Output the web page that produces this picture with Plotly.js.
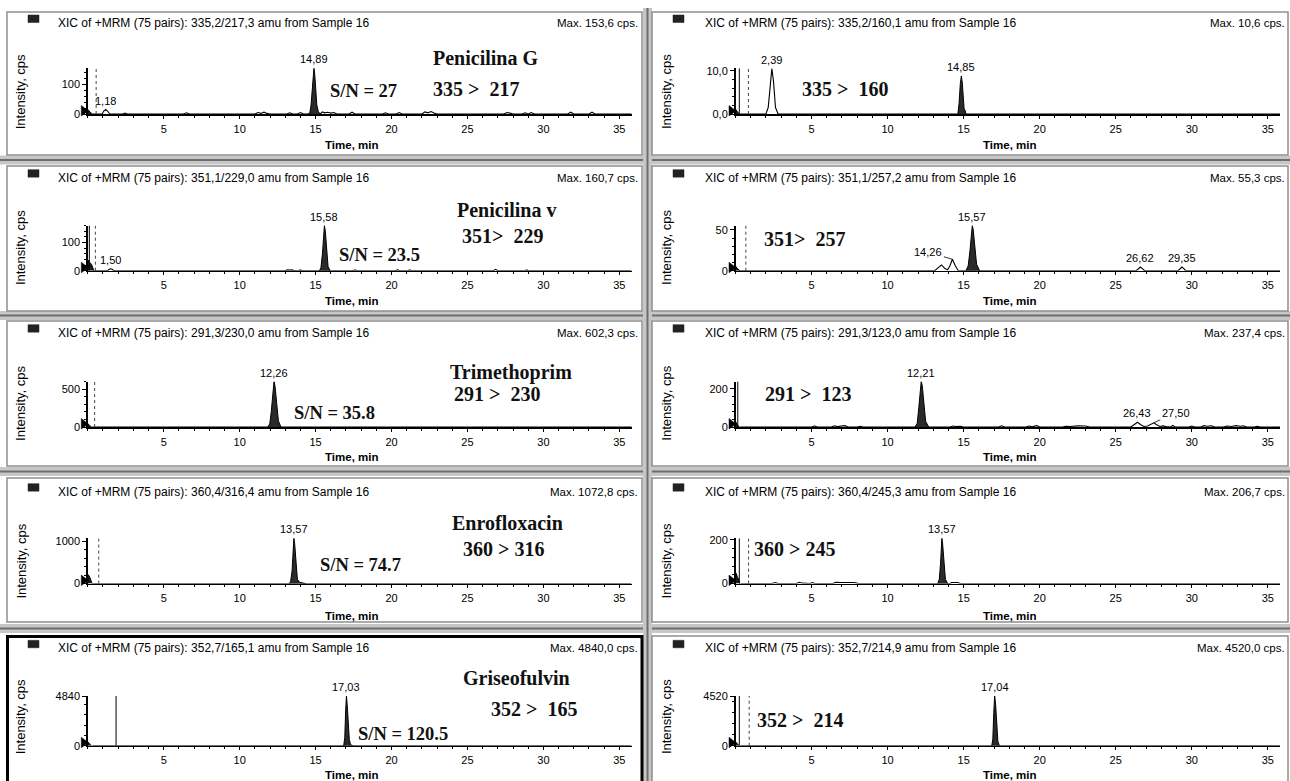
<!DOCTYPE html>
<html><head><meta charset="utf-8">
<script src="https://cdn.plot.ly/plotly-3.0.1.min.js"></script>
<style>html,body{margin:0;padding:0;background:#fff;overflow:hidden}#chart{width:1290px;height:781px}</style>
</head><body><div id="chart"></div>
<script>
// ---------------- DATA ----------------
const headers = [
  'XIC of +MRM (75 pairs): 335,2/217,3 amu from Sample 16',
  'XIC of +MRM (75 pairs): 335,2/160,1 amu from Sample 16',
  'XIC of +MRM (75 pairs): 351,1/229,0 amu from Sample 16',
  'XIC of +MRM (75 pairs): 351,1/257,2 amu from Sample 16',
  'XIC of +MRM (75 pairs): 291,3/230,0 amu from Sample 16',
  'XIC of +MRM (75 pairs): 291,3/123,0 amu from Sample 16',
  'XIC of +MRM (75 pairs): 360,4/316,4 amu from Sample 16',
  'XIC of +MRM (75 pairs): 360,4/245,3 amu from Sample 16',
  'XIC of +MRM (75 pairs): 352,7/165,1 amu from Sample 16',
  'XIC of +MRM (75 pairs): 352,7/214,9 amu from Sample 16'
];
const maxTexts = ['Max. 153,6 cps.','Max. 10,6 cps.','Max. 160,7 cps.','Max. 55,3 cps.','Max. 602,3 cps.',
  'Max. 237,4 cps.','Max. 1072,8 cps.','Max. 206,7 cps.','Max. 4840,0 cps.','Max. 4520,0 cps.'];
const yMax = [153.6, 10.6, 160.7, 55.3, 602.3, 237.4, 1072.8, 206.7, 4840, 4520];
const yTickVals = [[0,100],[0,10],[0,100,161],[0,50],[0,500],[0,200],[0,1000],[0,200],[0,4840],[0,4520]];
const yTickText = [['0','100'],['0,0','10,0'],['0','100','161'],['0','50'],['0','500'],['0','200'],['0','1000'],['0','200'],['0','4840'],['0','4520']];
const xTickVals = [5,10,15,20,25,30,35];
const xRange = [0, 35.8];

const compounds = ['Penicilina G','','Penicilina v','','Trimethoprim','','Enrofloxacin','','Griseofulvin',''];
const transitions = ['335 >\u00a0 217','335 >\u00a0 160','351>\u00a0 229','351>\u00a0 257','291 >\u00a0 230',
  '291 >\u00a0 123','360 > 316','360 > 245','352 >\u00a0 165','352 >\u00a0 214'];
const snTexts = ['S/N = 27','','S/N = 23.5','','S/N = 35.8','','S/N = 74.7','','S/N = 120.5',''];

// baselines (time, cps)
const baseA = [[0.3,0],[0.95,0],[1.05,10],[1.18,15],[1.3,10],[1.45,0],[2.3,0],[2.45,3],[2.6,0],[6.3,0],[6.5,4],[6.7,0],
  [11.0,0],[11.2,5],[11.4,2],[11.6,6],[11.8,2],[12.0,0],[13.1,0],[13.3,4],[13.5,0],[13.8,0],[14.0,5],[14.2,0],
  [15.3,0],[15.45,7],[15.6,4],[15.8,6],[16.0,3],[16.2,5],[16.4,0],[17.2,0],[17.4,6],[17.6,0],[19.4,0],[19.6,4],[19.8,0],
  [20.3,0],[20.5,5],[20.7,0],[22.0,0],[22.2,7],[22.4,4],[22.6,8],[22.8,3],[23.0,0],[27.4,0],[27.6,5],[27.8,3],[28.0,0],
  [28.6,0],[28.8,4],[29.0,0],[29.2,5],[29.4,0],[31.6,0],[31.8,6],[32.0,0],[33.0,0],[33.2,6],[33.4,0],[35.8,0]];
const baseB = [[0.3,0],[2.0,0],[2.15,1.5],[2.28,7.5],[2.39,10.5],[2.5,7.5],[2.63,1.5],[2.8,0],[35.8,0]];
const baseC = [[0.4,0],[1.3,0],[1.42,5],[1.5,7],[1.6,5],[1.72,0],[13.0,0],[13.15,3],[13.3,2],[13.45,3],[13.6,0],
  [13.9,0],[14.0,3],[14.1,0],[17.5,0],[17.6,3],[17.7,0],[20.3,0],[20.4,4],[20.5,0],[21.1,0],[21.2,3],[21.3,0],
  [26.7,0],[26.85,5],[27.0,0],[28.8,0],[28.9,3],[29.0,0],[29.7,0],[29.8,2],[29.9,0],[35.8,0]];
const baseD = [[0.3,0],[13.1,0],[13.35,4],[13.55,7],[13.75,3],[13.95,1],[14.1,6],[14.26,14],[14.45,6],[14.65,0],
  [26.35,0],[26.5,2.5],[26.62,4.5],[26.75,2.5],[26.9,0],[29.1,0],[29.22,2.5],[29.35,4.5],[29.48,2.5],[29.6,0],[35.8,0]];
const baseE = [[0.3,0],[2.9,0],[3.0,4],[3.1,0],[35.8,0]];
const baseF = [[0.3,0],[5.0,0],[5.2,5],[5.4,0],[6.3,0],[6.5,6],[6.7,2],[7.0,3],[7.2,7],[7.4,0],[8.0,0],[8.2,4],[8.4,0],
  [14.1,0],[14.3,5],[14.5,2],[14.8,4],[15.0,0],[17.3,0],[17.5,6],[17.7,0],[19.1,0],[19.3,5],[19.5,1],[19.8,7],[20.0,0],
  [21.5,0],[21.7,4],[22.0,3],[22.5,6],[23.0,5],[23.3,0],[24.0,0],[24.15,3],[24.3,0],[26.0,0],[26.2,12],[26.43,25],
  [26.65,12],[26.85,3],[27.1,5],[27.3,15],[27.5,22],[27.7,12],[27.9,3],[28.1,6],[28.3,2],[28.6,0],[28.75,8],[28.9,0],
  [29.8,0],[30.0,5],[30.2,0],[30.6,0],[30.8,7],[31.0,4],[31.3,6],[31.5,0],[32.1,0],[32.3,5],[32.6,3],[32.9,7],[33.2,4],
  [33.4,6],[33.6,0],[34.1,0],[34.3,4],[34.5,0],[35.1,0],[35.3,3],[35.5,0],[35.8,0]];
const baseG = [[0.3,0],[35.8,0]];
const baseH = [[0.35,0],[2.4,0],[2.6,5],[2.8,0],[4.0,0],[4.2,6],[4.4,2],[4.6,0],[4.9,0],[5.05,5],[5.2,0],[6.4,0],[6.6,6],
  [7.0,5],[7.4,6],[7.8,5],[8.1,0],[8.9,0],[9.05,2],[9.2,0],[12.7,0],[12.85,3],[13.0,0],[14.1,0],[14.2,5],[14.6,5],[14.8,0],
  [26.1,0],[26.2,3],[26.3,0],[34.9,0],[35.0,2],[35.1,0],[35.8,0]];
const baseI = [[0.3,0],[35.8,0]];
const baseJ = [[0.3,0],[35.8,0]];

// main (filled) peaks
const peakA = [[14.5,0],[14.62,4],[14.7,30],[14.78,95],[14.84,140],[14.89,153.6],[14.94,135],[15.0,80],[15.08,30],[15.18,8],[15.3,0]];
const peakB = [[14.62,0],[14.7,2.5],[14.78,7],[14.85,8.8],[14.91,7.2],[14.97,3],[15.03,1.2],[15.1,0.8],[15.15,0]];
const peakC = [[15.25,0],[15.35,10],[15.45,60],[15.52,130],[15.58,160.7],[15.64,140],[15.72,70],[15.82,15],[15.95,0]];
const peakD = [[15.15,0],[15.3,6],[15.42,25],[15.52,48],[15.57,55.3],[15.63,50],[15.72,28],[15.85,8],[16.05,0]];
const peakE = [[11.85,0],[11.98,40],[12.08,200],[12.18,480],[12.26,602.3],[12.33,540],[12.43,300],[12.55,80],[12.72,0]];
const peakF = [[11.8,0],[11.95,20],[12.05,100],[12.14,200],[12.21,237.4],[12.28,215],[12.38,120],[12.5,30],[12.7,0]];
const peakG = [[13.25,0],[13.35,40],[13.45,300],[13.52,850],[13.57,1072.8],[13.62,950],[13.7,450],[13.8,100],[13.95,30],[14.2,10],[14.35,0]];
const peakH = [[13.3,0],[13.4,20],[13.48,90],[13.53,170],[13.57,206.7],[13.62,180],[13.7,90],[13.8,20],[13.95,0]];
const peakI = [[16.85,0],[16.92,800],[16.98,3500],[17.03,4840],[17.08,4000],[17.14,2600],[17.22,600],[17.3,100],[17.45,0]];
const peakJ = [[16.85,0],[16.92,600],[16.98,3000],[17.04,4520],[17.1,3800],[17.17,1800],[17.25,400],[17.35,0]];

// solvent-front region at start
const headA = [[0,0],[0.03,14],[0.15,6],[0.3,0]];
const headB = [[0,0],[0.03,1.0],[0.15,0.4],[0.25,0]];
const headC = [[0,0],[0.03,38],[0.12,30],[0.25,22],[0.4,0]];
const headD = [[0,0],[0.03,5],[0.15,2],[0.3,0]];
const headE = [[0,0],[0.03,40],[0.12,18],[0.25,0]];
const headF = [[0,0],[0.03,25],[0.12,12],[0.25,0]];
const headG = [[0,0],[0.03,210],[0.12,160],[0.28,0]];
const headH = [[0,0],[0.03,48],[0.12,32],[0.3,0]];
const headI = [[0,0],[0.03,350],[0.12,150],[0.25,0]];
const headJ = [[0,0],[0.03,320],[0.12,150],[0.25,0]];

// vertical markers (time)
const spikeTimes = [[],[0.25],[0.1],[],[],[0.15],[],[0.25],[1.86],[0.25]];
const dotTimes = [[0.55],[0.85],[0.5],[0.68],[0.45],[],[0.72],[0.86],[],[0.9]];

// peak labels: panel, text, time, height, leader dx, leader dy (px)
const peakLabels = [
  [0,'14,89',14.89,153.6],[0,'1,18',1.18,15],[1,'2,39',2.39,10.5],[1,'14,85',14.85,8.8],
  [2,'15,58',15.58,160.7],[2,'1,50',1.5,7],[3,'15,57',15.57,55.3],[3,'14,26',14.26,14,-24,-7],
  [3,'26,62',26.62,4.5],[3,'29,35',29.35,4.5],[4,'12,26',12.26,602.3],[5,'12,21',12.21,237.4],
  [5,'26,43',26.43,25],[5,'27,50',27.5,22,22,-10],[6,'13,57',13.57,1072.8],[7,'13,57',13.57,206.7],
  [8,'17,03',17.03,4840],[9,'17,04',17.04,4520]
];

const bases = [baseA,baseB,baseC,baseD,baseE,baseF,baseG,baseH,baseI,baseJ];
const peaks = [peakA,peakB,peakC,peakD,peakE,peakF,peakG,peakH,peakI,peakJ];
const heads = [headA,headB,headC,headD,headE,headF,headG,headH,headI,headJ];

// ---------------- LAYOUT GEOMETRY (px) ----------------
const W = 1290, H = 781;
const PX = x => x / W, PY = y => 1 - y / H;
const SANS = 'Liberation Sans, Arial, sans-serif';
const SERIF = 'Liberation Serif, Times New Roman, serif';
const colX0 = [87.8, 735.5], colX1 = [631.5, 1280];
const rowY0 = [114, 270.7, 427, 583.6, 745.7];
const rowTop = [68.2, 225.5, 381.5, 538.2, 696];
const hdrY = [23, 177.7, 332.7, 491.7, 648.3];
const yTitleY = [91.7, 247.5, 403.3, 561, 716.7];
const xTitleY = [145, 300.7, 456.7, 616.3, 775];
const yMinor = [20, 2, 20, 10, 100, 40, 200, 40, 1000, 1000];
const namePos = {0:[485.5,56.7],2:[506,209],4:[511,371],6:[507,521.7],8:[516,676.7]};
const transPos = [[476,88.3],[844.5,88.3],[502,234.5],[804,238.3],[496.5,393.3],[808,393.3],[503,548.3],[794,548.3],[533.6,708.3],[800,719]];
const snPos = {0:[363,90],2:[379.5,254],4:[334,411.7],6:[361,564],8:[403,733.3]};

const toXY = arr => ({x: arr.map(p => p[0]), y: arr.map(p => p[1])});

const traces = [], annotations = [], shapes = [];
const layout = {
  width: W, height: H, margin: {l:0, r:0, t:0, b:0}, showlegend: false,
  paper_bgcolor: '#fff', plot_bgcolor: 'rgba(0,0,0,0)', font: {family: SANS, color: '#000'}
};

// separators and frames
const sepY = [160, 315.5, 471.5, 628.5];
sepY.forEach(y => {
  shapes.push({type:'line', xref:'paper', yref:'paper', x0:0, x1:1, y0:PY(y), y1:PY(y), line:{color:'#c6c6c6', width:9}, layer:'below'});
  shapes.push({type:'line', xref:'paper', yref:'paper', x0:0, x1:1, y0:PY(y), y1:PY(y), line:{color:'#6e6e6e', width:2}, layer:'below'});
});
shapes.push({type:'line', xref:'paper', yref:'paper', x0:PX(647.5), x1:PX(647.5), y0:0, y1:PY(8), line:{color:'#c6c6c6', width:9}, layer:'below'});
shapes.push({type:'line', xref:'paper', yref:'paper', x0:PX(647.5), x1:PX(647.5), y0:0, y1:PY(8), line:{color:'#6e6e6e', width:2}, layer:'below'});
const rowTopF = [12, 166, 321, 478, 636], rowBotF = [155, 311, 466, 622, 795];
const colL = [7, 652], colR = [642, 1288];
for (let r = 0; r < 5; r++) for (let c = 0; c < 2; c++) {
  shapes.push({type:'rect', xref:'paper', yref:'paper', x0:PX(colL[c]), x1:PX(colR[c]), y0:PY(rowBotF[r]), y1:PY(rowTopF[r]),
    line:{color:'#8e8e8e', width:1.5}, fillcolor:'rgba(0,0,0,0)', layer:'below'});
}
shapes.push({type:'rect', xref:'paper', yref:'paper', x0:PX(7.5), x1:PX(642), y0:PY(795), y1:PY(636.5),
  line:{color:'#000', width:3}, fillcolor:'rgba(0,0,0,0)', layer:'above'});

for (let i = 0; i < 10; i++) {
  const c = i % 2, r = Math.floor(i / 2);
  const s = i === 0 ? '' : String(i + 1);
  const xa = 'x' + s, ya = 'y' + s;
  layout['xaxis' + s] = {
    domain: [PX(colX0[c]), PX(colX1[c])], range: xRange, anchor: ya,
    tickmode: 'array', tickvals: xTickVals, ticks: 'outside', ticklen: 3, tickwidth: 1, tickcolor: '#000',
    showline: true, linecolor: '#000', linewidth: 1.5, showgrid: false, zeroline: false, fixedrange: true,
    tickfont: {family: SANS, size: 11, color: '#000'}, ticklabelstandoff: 1,
    minor: {tickmode: 'linear', tick0: 0, dtick: 1, ticks: 'outside', ticklen: 2, tickcolor: '#000', showgrid: false}
  };
  layout['yaxis' + s] = {
    domain: [PY(rowY0[r]), PY(rowTop[r])], range: [0, yMax[i]], anchor: xa,
    tickmode: 'array', tickvals: yTickVals[i], ticktext: yTickText[i], ticks: 'outside', ticklen: 4, tickcolor: '#000',
    showline: true, linecolor: '#000', linewidth: 1.5, showgrid: false, zeroline: false, fixedrange: true,
    tickfont: {family: SANS, size: 11, color: '#000'},
    minor: {tickmode: 'linear', tick0: 0, dtick: yMinor[i], ticks: 'outside', ticklen: 2, tickcolor: '#000', showgrid: false}
  };

  const b = toXY(bases[i]);
  traces.push({type:'scatter', mode:'lines', x:b.x, y:b.y, xaxis:xa, yaxis:ya, line:{color:'#000', width:1.1}, hoverinfo:'skip'});
  const h = toXY(heads[i]);
  traces.push({type:'scatter', mode:'lines', x:h.x, y:h.y, xaxis:xa, yaxis:ya, fill:'tozeroy', fillcolor:'#1e1e1e', line:{color:'#000', width:1}, hoverinfo:'skip'});
  const p = toXY(peaks[i]);
  traces.push({type:'scatter', mode:'lines', x:p.x, y:p.y, xaxis:xa, yaxis:ya, fill:'tozeroy', fillcolor:'#2a2a2a', line:{color:'#000', width:1}, hoverinfo:'skip'});
  spikeTimes[i].forEach(t => traces.push({type:'scatter', mode:'lines', x:[t,t], y:[0,yMax[i]], xaxis:xa, yaxis:ya, line:{color:'#000', width:1}, hoverinfo:'skip'}));
  dotTimes[i].forEach(t => traces.push({type:'scatter', mode:'lines', x:[t,t], y:[0,yMax[i]], xaxis:xa, yaxis:ya, line:{color:'#444', width:1, dash:'dot'}, hoverinfo:'skip'}));

  // start triangle glyph
  const x0 = colX0[c], y0 = rowY0[r];
  shapes.push({type:'path', xref:'paper', yref:'paper', layer:'above',
    path:`M ${PX(x0-6.5)},${PY(y0-8.5)} L ${PX(x0+0.5)},${PY(y0-3)} L ${PX(x0-6.5)},${PY(y0+2)} Z`,
    fillcolor:'#000', line:{color:'#000', width:0.5}});

  // header
  const sqL = c === 0 ? 28 : 673;
  shapes.push({type:'rect', xref:'paper', yref:'paper', x0:PX(sqL), x1:PX(sqL+11), y0:PY(hdrY[r]-0.5), y1:PY(hdrY[r]-8),
    fillcolor:'#222', line:{color:'#222', width:0.5}});
  annotations.push({xref:'paper', yref:'paper', x:PX(c === 0 ? 55.5 : 702.6), y:PY(hdrY[r]), xanchor:'left', yanchor:'middle',
    text:headers[i], showarrow:false, font:{family:SANS, size:12, color:'#000'}});
  annotations.push({xref:'paper', yref:'paper', x:PX(c === 0 ? 640 : 1287), y:PY(hdrY[r]), xanchor:'right', yanchor:'middle',
    text:maxTexts[i], showarrow:false, font:{family:SANS, size:11.5, color:'#000'}});
  // axis titles
  annotations.push({xref:'paper', yref:'paper', x:PX(c === 0 ? 20.6 : 666.4), y:PY(yTitleY[r]), xanchor:'center', yanchor:'middle',
    text:'Intensity, cps', textangle:-90, showarrow:false, font:{family:SANS, size:13, color:'#000'}});
  annotations.push({xref:'paper', yref:'paper', x:PX(c === 0 ? 351.7 : 1009), y:PY(xTitleY[r]), xanchor:'center', yanchor:'middle',
    text:'<b>Time, min</b>', showarrow:false, font:{family:SANS, size:11.5, color:'#000'}});
  // compound texts
  if (compounds[i]) annotations.push({xref:'paper', yref:'paper', x:PX(namePos[i][0]), y:PY(namePos[i][1]+1), xanchor:'center', yanchor:'middle',
    text:'<b>' + compounds[i] + '</b>', showarrow:false, font:{family:SERIF, size:20, color:'#111'}});
  annotations.push({xref:'paper', yref:'paper', x:PX(transPos[i][0]), y:PY(transPos[i][1]+1), xanchor:'center', yanchor:'middle',
    text:'<b>' + transitions[i] + '</b>', showarrow:false, font:{family:SERIF, size:20, color:'#111'}});
  if (snTexts[i]) annotations.push({xref:'paper', yref:'paper', x:PX(snPos[i][0]), y:PY(snPos[i][1]+1), xanchor:'center', yanchor:'middle',
    text:'<b>' + snTexts[i] + '</b>', showarrow:false, font:{family:SERIF, size:18.5, color:'#111'}});
}

peakLabels.forEach(l => {
  const [i, txt, t, v, dx, dy] = l;
  const s = i === 0 ? '' : String(i + 1);
  if (dx !== undefined) {
    annotations.push({xref:'x' + s, yref:'y' + s, x:t, y:v, text:txt, showarrow:true, ax:dx, ay:dy,
      arrowhead:0, arrowwidth:0.8, arrowcolor:'#000', standoff:0, font:{family:SANS, size:11, color:'#000'}});
  } else {
    annotations.push({xref:'x' + s, yref:'y' + s, x:t, y:v, text:txt, showarrow:false, yanchor:'bottom', yshift:1,
      font:{family:SANS, size:11, color:'#000'}});
  }
});

layout.annotations = annotations;
layout.shapes = shapes;
Plotly.newPlot('chart', traces, layout, {displayModeBar:false, staticPlot:true});
</script>
</body></html>
